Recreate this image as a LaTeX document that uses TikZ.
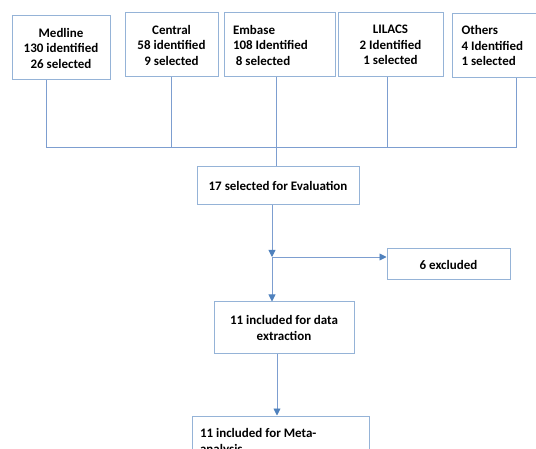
\documentclass[tikz,border=0pt]{standalone}
\usepackage{fontspec}
\setmainfont{Carlito}
\usetikzlibrary{arrows.meta,positioning}
\definecolor{boxblue}{RGB}{149,179,215}
\definecolor{lineblue}{RGB}{125,158,208}
\definecolor{tipblue}{RGB}{79,129,189}

\begin{document}
\begin{tikzpicture}[
    x=1pt,y=-1pt,
    >={Triangle[length=7pt,width=7pt,color=tipblue]},
    every node/.style={font=\bfseries\fontsize{13}{15.5}\selectfont},
    box/.style={draw=boxblue,line width=1pt,inner sep=0pt},
    link/.style={draw=lineblue,line width=0.9pt}
]

\useasboundingbox (0,0) rectangle (536,449);
\clip (0,0) rectangle (536,449);

% databases
\node[box,minimum width=98,minimum height=64,align=center] (medline) at (61,48)
  {Medline\\130 identified\\26 selected};
\node[box,minimum width=93,minimum height=64,align=center] (central) at (171.5,45)
  {Central\\58 identified\\9 selected};
\node[box,minimum width=111,minimum height=64,align=flush left,text width=93,inner xsep=9] (embase) at (279.5,45)
  {Embase\\108 Identified\\\ 8 selected};
\node[box,minimum width=105,minimum height=64,align=center] (lilacs) at (390.5,45)
  {LILACS\\2 Identified\\1 selected};
\node[box,minimum height=64,align=flush left,text width=87,inner xsep=9,anchor=north west] (others) at (452,13)
  {Others\\4 Identified\\1 selected};

% screening steps
\node[box,minimum width=162,minimum height=38] (eval) at (278,186) {17 selected for Evaluation};
\node[box,minimum width=123,minimum height=31] (excluded) at (448.5,264.5) {6 excluded};
\node[box,minimum width=140,minimum height=52,align=center] (extract) at (284,328)
  {11 included for data\\extraction};
\node[box,minimum height=52,align=flush left,text width=161,inner xsep=8] (meta) at (280.5,442)
  {11 included for Meta-\\analysis};

% bus
\coordinate (busL) at (46,147);
\coordinate (busR) at (516,147);
\coordinate (trunk) at (276,147);
\coordinate (split) at (272,257);

\draw[link] (medline.south -| busL) -- (busL) -- (busR) -- (others.south -| busR);
\draw[link] (central.south) -- (central.south |- busL);
\draw[link] (lilacs.south -| 387,0) -- (387,147);
\draw[link] (embase.south -| trunk) -- (eval.north -| trunk);

% arrows
\draw[link,->] (eval.south -| split) -- (split);
\draw[link,->] (split) -- (split |- extract.north);
\draw[link,->] (split) -- (split -| excluded.west);
\draw[link,->] ([xshift=-7]extract.south) -- ([xshift=-7]extract.south |- meta.north);

\end{tikzpicture}
\end{document}
